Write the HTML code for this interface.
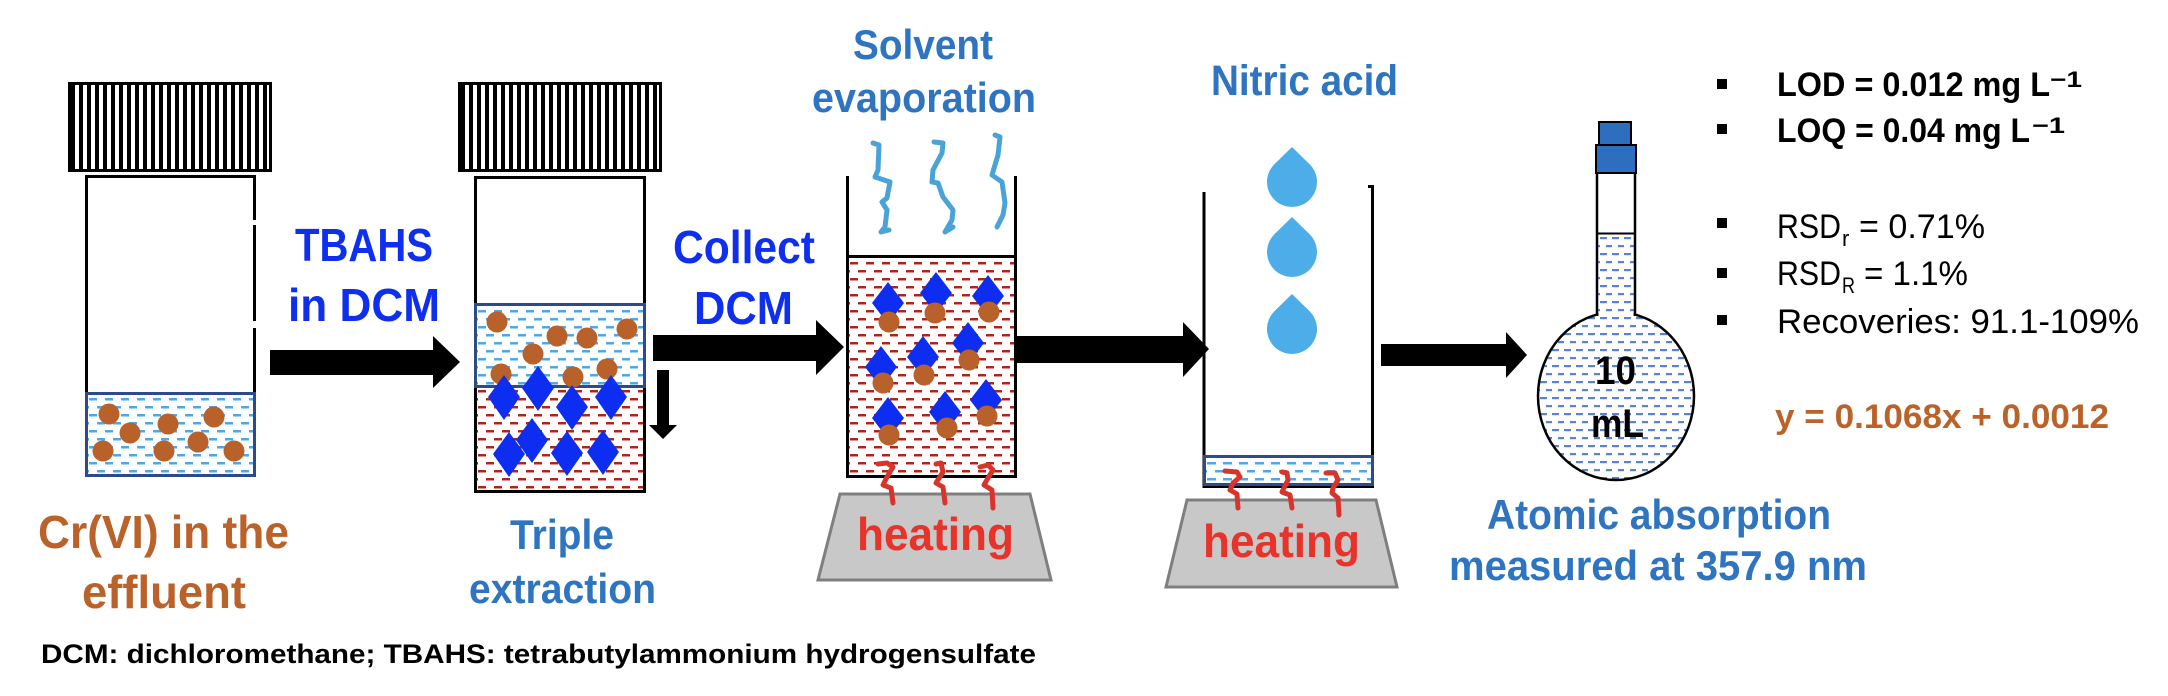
<!DOCTYPE html>
<html><head><meta charset="utf-8"><style>
html,body{margin:0;padding:0;background:#fff;}
svg{display:block;}
text{font-family:"Liberation Sans",Arial,sans-serif;}
</style></head><body>
<svg width="2168" height="696" viewBox="0 0 2168 696" xmlns="http://www.w3.org/2000/svg">
<defs>
<pattern id="stripes" x="71" y="0" width="8" height="10" patternUnits="userSpaceOnUse"><rect x="0" y="0" width="8" height="10" fill="#fff"/><rect x="0" y="0" width="4" height="10" fill="#000"/></pattern>
<pattern id="stripes2" x="461" y="0" width="8" height="10" patternUnits="userSpaceOnUse"><rect x="0" y="0" width="8" height="10" fill="#fff"/><rect x="0" y="0" width="4" height="10" fill="#000"/></pattern>
<pattern id="lb1" x="89" y="398" width="16" height="16" patternUnits="userSpaceOnUse"><rect width="16" height="16" fill="#fff"/><rect x="0" y="0" width="8" height="2.5" fill="#4DA8EA"/><rect x="8" y="8" width="8" height="2.5" fill="#4DA8EA"/></pattern>
<pattern id="lb2" x="478" y="310" width="16" height="16" patternUnits="userSpaceOnUse"><rect width="16" height="16" fill="#fff"/><rect x="0" y="0" width="8" height="2.5" fill="#4DA8EA"/><rect x="8" y="8" width="8" height="2.5" fill="#4DA8EA"/></pattern>
<pattern id="lb3" x="1207" y="462" width="16" height="16" patternUnits="userSpaceOnUse"><rect width="16" height="16" fill="#fff"/><rect x="0" y="0" width="9" height="2.5" fill="#4DA8EA"/><rect x="8" y="8" width="9" height="2.5" fill="#4DA8EA"/></pattern>
<pattern id="rd1" x="478" y="390" width="16" height="16" patternUnits="userSpaceOnUse"><rect width="16" height="16" fill="#fff"/><rect x="0" y="0" width="8" height="2.5" fill="#B0231A"/><rect x="8" y="8" width="8" height="2.5" fill="#B0231A"/></pattern>
<pattern id="rd2" x="850" y="262" width="16" height="16" patternUnits="userSpaceOnUse"><rect width="16" height="16" fill="#fff"/><rect x="0" y="0" width="8" height="2.5" fill="#B0231A"/><rect x="8" y="8" width="8" height="2.5" fill="#B0231A"/></pattern>
<pattern id="fb" x="1600" y="237" width="12" height="16" patternUnits="userSpaceOnUse"><rect width="12" height="16" fill="#fff"/><rect x="0" y="0" width="7" height="2.2" fill="#5585D2"/><rect x="6" y="8" width="7" height="2.2" fill="#5585D2"/></pattern>
<clipPath id="flaskclip"><rect x="1597" y="233" width="38" height="100"/><ellipse cx="1616" cy="396" rx="78" ry="84"/></clipPath>
</defs>

<!-- ===== Vial 1 ===== -->
<rect x="69.5" y="83.5" width="201" height="87" fill="url(#stripes)" stroke="#000" stroke-width="3"/>
<rect x="86.5" y="176.5" width="168" height="299" fill="#fff" stroke="#000" stroke-width="3"/>
<rect x="253" y="220" width="5" height="5" fill="#fff"/>
<rect x="253" y="321" width="5" height="7" fill="#fff"/>
<rect x="86.5" y="393.5" width="168" height="82" fill="url(#lb1)" stroke="#2F4A8A" stroke-width="3"/>
<g fill="#B8612A">
<circle cx="109" cy="414" r="10.5"/><circle cx="130" cy="433" r="10.5"/><circle cx="168" cy="424" r="10.5"/><circle cx="214" cy="417" r="10.5"/>
<circle cx="103" cy="451" r="10.5"/><circle cx="164" cy="451" r="10.5"/><circle cx="198" cy="442" r="10.5"/><circle cx="234" cy="451" r="10.5"/>
</g>

<!-- Arrow 1 -->
<polygon points="270,350 433,350 433,336 460,362 433,388 433,375 270,375" fill="#000"/>
<text x="295" y="261" font-size="46" font-weight="bold" fill="#0F2FEF" textLength="138" lengthAdjust="spacingAndGlyphs">TBAHS</text>
<text x="288" y="321" font-size="46" font-weight="bold" fill="#0F2FEF" textLength="152" lengthAdjust="spacingAndGlyphs">in DCM</text>

<text x="38" y="548" font-size="46" font-weight="bold" fill="#BA622A" textLength="251" lengthAdjust="spacingAndGlyphs">Cr(VI) in the</text>
<text x="82" y="608" font-size="46" font-weight="bold" fill="#BA622A" textLength="164" lengthAdjust="spacingAndGlyphs">effluent</text>

<!-- ===== Vial 2 ===== -->
<rect x="459.5" y="83.5" width="201" height="87" fill="url(#stripes2)" stroke="#000" stroke-width="3"/>
<rect x="475.5" y="177.5" width="169" height="314" fill="#fff" stroke="#000" stroke-width="3"/>
<rect x="475.5" y="386.5" width="169" height="105" fill="url(#rd1)" stroke="#000" stroke-width="3"/>
<rect x="475.5" y="304.5" width="169" height="82" fill="url(#lb2)" stroke="#2F4A8A" stroke-width="3"/>
<g fill="#B8612A">
<circle cx="497" cy="322" r="10.5"/><circle cx="557" cy="336" r="10.5"/><circle cx="587" cy="338" r="10.5"/><circle cx="627" cy="329" r="10.5"/>
<circle cx="533" cy="354" r="10.5"/><circle cx="501" cy="374" r="10.5"/><circle cx="573" cy="377" r="10.5"/><circle cx="607" cy="369" r="10.5"/>
</g>
<g fill="#0D2DF0">
<polygon points="504,375 520,397 504,420 488,397"/>
<polygon points="538,366 554,388 538,411 522,388"/>
<polygon points="572,385 588,407 572,430 556,407"/>
<polygon points="611,375 627,397 611,420 595,397"/>
<polygon points="532,418 548,440 532,463 516,440"/>
<polygon points="509,432 525,454 509,477 493,454"/>
<polygon points="567,431 583,453 567,476 551,453"/>
<polygon points="603,430 619,452 603,475 587,452"/>
</g>
<!-- down arrow -->
<polygon points="657,370 669,370 669,425 677,425 663,439 649,425 657,425" fill="#000"/>

<text x="510" y="549" font-size="42" font-weight="bold" fill="#2E74C0" textLength="104" lengthAdjust="spacingAndGlyphs">Triple</text>
<text x="469" y="603" font-size="42" font-weight="bold" fill="#2E74C0" textLength="187" lengthAdjust="spacingAndGlyphs">extraction</text>

<!-- Arrow 2 -->
<polygon points="653,335 816,335 816,320 844,347 816,375 816,361 653,361" fill="#000"/>
<text x="673" y="263" font-size="46" font-weight="bold" fill="#0F2FEF" textLength="142" lengthAdjust="spacingAndGlyphs">Collect</text>
<text x="694" y="324" font-size="46" font-weight="bold" fill="#0F2FEF" textLength="99" lengthAdjust="spacingAndGlyphs">DCM</text>

<!-- ===== Beaker 1 ===== -->
<text x="853" y="59" font-size="42" font-weight="bold" fill="#2E74C0" textLength="140" lengthAdjust="spacingAndGlyphs">Solvent</text>
<text x="812" y="112" font-size="42" font-weight="bold" fill="#2E74C0" textLength="224" lengthAdjust="spacingAndGlyphs">evaporation</text>
<g fill="none" stroke="#4AA3D8" stroke-width="5" stroke-linecap="round" stroke-linejoin="round">
<polyline points="873,143 879,145 878,170 875,177 890,182 887,198 882,202 887,210 885,227 881,232 889,230"/>
<polyline points="934,142 943,143 942,153 933,170 932,182 938,183 943,197 953,210 952,220 945,232 953,227"/>
<polyline points="995,135 1000,137 998,155 992,175 1002,182 1005,203 1003,215 997,227"/>
</g>
<rect x="847.5" y="256.5" width="168" height="220" fill="url(#rd2)" stroke="#000" stroke-width="3"/>
<line x1="847.5" y1="176" x2="847.5" y2="258" stroke="#000" stroke-width="3"/>
<line x1="1015.5" y1="176" x2="1015.5" y2="258" stroke="#000" stroke-width="3"/>
<g fill="#0D2DF0">
<polygon points="888,282 904,303 888,324 872,303"/>
<polygon points="936,272 952,293 936,314 920,293"/>
<polygon points="988,275 1004,296 988,317 972,296"/>
<polygon points="881,346 897,367 881,388 865,367"/>
<polygon points="923,336 939,357 923,378 907,357"/>
<polygon points="968,322 984,343 968,364 952,343"/>
<polygon points="888,397 904,418 888,439 872,418"/>
<polygon points="945,391 961,412 945,433 929,412"/>
<polygon points="986,379 1002,400 986,421 970,400"/>
</g>
<g fill="#B8612A">
<circle cx="889" cy="322" r="10.5"/><circle cx="935" cy="313" r="10.5"/><circle cx="989" cy="312" r="10.5"/>
<circle cx="883" cy="383" r="10.5"/><circle cx="924" cy="375" r="10.5"/><circle cx="969" cy="360" r="10.5"/>
<circle cx="889" cy="435" r="10.5"/><circle cx="947" cy="428" r="10.5"/><circle cx="987" cy="416" r="10.5"/>
</g>
<polygon points="840,494 1030,494 1051,580 818,580" fill="#C8C8C8" stroke="#7F7F7F" stroke-width="3"/>
<g fill="none" stroke="#D9342B" stroke-width="5" stroke-linecap="round" stroke-linejoin="round">
<polyline points="878,464 887,463 893,467 887,477 883,485 891,488 893,503"/>
<polyline points="936,464 941,463 943,472 936,483 943,487 945,503"/>
<polyline points="980,467 988,465 993,470 988,478 984,485 992,490 993,508"/>
</g>
<text x="857" y="550" font-size="46" font-weight="bold" fill="#E8332A" textLength="157" lengthAdjust="spacingAndGlyphs">heating</text>

<!-- Arrow 3 -->
<polygon points="1017,336 1183,336 1183,322 1209,349 1183,377 1183,363 1017,363" fill="#000"/>

<!-- ===== Beaker 2 ===== -->
<text x="1211" y="95" font-size="43" font-weight="bold" fill="#2E74C0" textLength="187" lengthAdjust="spacingAndGlyphs">Nitric acid</text>
<g fill="#4DADE8">
<path d="M1292,147 L1309.5,164.1 A25,25 0 1 1 1274.5,164.1 Z"/>
<path d="M1292,217 L1309.5,234.1 A25,25 0 1 1 1274.5,234.1 Z"/>
<path d="M1292,294 L1309.5,311.1 A25,25 0 1 1 1274.5,311.1 Z"/>
</g>
<line x1="1204" y1="192" x2="1204" y2="488" stroke="#000" stroke-width="3"/>
<line x1="1372.5" y1="185" x2="1372.5" y2="488" stroke="#000" stroke-width="3"/>
<line x1="1368" y1="186.5" x2="1373" y2="186.5" stroke="#000" stroke-width="3"/>
<line x1="1202.5" y1="486.5" x2="1374" y2="486.5" stroke="#000" stroke-width="3"/>
<rect x="1204.5" y="456.5" width="168" height="28" fill="url(#lb3)" stroke="#2F4A8A" stroke-width="3"/>
<polygon points="1187,500 1376,500 1397,587 1166,587" fill="#C8C8C8" stroke="#7F7F7F" stroke-width="3"/>
<g fill="none" stroke="#D9342B" stroke-width="5" stroke-linecap="round" stroke-linejoin="round">
<polyline points="1225,471 1237,472 1240,477 1233,483 1230,490 1237,494 1238,508"/>
<polyline points="1282,472 1287,473 1288,480 1282,492 1290,495 1292,508"/>
<polyline points="1326,473 1335,473 1338,480 1333,488 1332,493 1338,498 1339,515"/>
</g>
<text x="1203" y="557" font-size="46" font-weight="bold" fill="#E8332A" textLength="157" lengthAdjust="spacingAndGlyphs">heating</text>

<!-- Arrow 4 -->
<polygon points="1381,344 1506,344 1506,332 1527,355 1506,378 1506,366 1381,366" fill="#000"/>

<!-- ===== Flask ===== -->
<rect x="1597" y="233" width="38" height="100" fill="url(#fb)" clip-path="url(#flaskclip)"/>
<ellipse cx="1616" cy="396" rx="78" ry="84" fill="url(#fb)" stroke="#000" stroke-width="2.5"/>
<rect x="1598.5" y="300" width="35" height="22" fill="url(#fb)"/>
<rect x="1598" y="174" width="36" height="59" fill="#fff"/>
<line x1="1597" y1="173" x2="1597" y2="316" stroke="#000" stroke-width="2.5"/>
<line x1="1635" y1="173" x2="1635" y2="316" stroke="#000" stroke-width="2.5"/>
<line x1="1597" y1="233.5" x2="1635" y2="233.5" stroke="#000" stroke-width="2"/>
<rect x="1599" y="122" width="32" height="23" fill="#2E6EBE" stroke="#000" stroke-width="2"/>
<rect x="1596" y="145" width="40" height="28" fill="#2E6EBE" stroke="#000" stroke-width="2"/>
<text x="1595" y="384" font-size="40" font-weight="bold" fill="#000" textLength="41" lengthAdjust="spacingAndGlyphs">10</text>
<text x="1591" y="437" font-size="40" font-weight="bold" fill="#000" textLength="53" lengthAdjust="spacingAndGlyphs">mL</text>

<text x="1487" y="529" font-size="42" font-weight="bold" fill="#2E74C0" textLength="344" lengthAdjust="spacingAndGlyphs">Atomic absorption</text>
<text x="1449" y="580" font-size="42" font-weight="bold" fill="#2E74C0" textLength="418" lengthAdjust="spacingAndGlyphs">measured at 357.9 nm</text>

<!-- ===== Right text ===== -->
<g fill="#000">
<rect x="1717" y="79" width="10" height="10"/>
<rect x="1717" y="124" width="10" height="10"/>
<rect x="1717" y="218" width="10" height="10"/>
<rect x="1717" y="268" width="10" height="10"/>
<rect x="1717" y="315" width="10" height="10"/>
</g>
<text x="1777" y="96" font-size="34" font-weight="bold" fill="#000" textLength="273" lengthAdjust="spacingAndGlyphs">LOD = 0.012 mg L</text>
<text x="2050" y="87" font-size="22" font-weight="bold" fill="#000" textLength="32" lengthAdjust="spacingAndGlyphs">−1</text>
<text x="1777" y="142" font-size="34" font-weight="bold" fill="#000" textLength="253" lengthAdjust="spacingAndGlyphs">LOQ = 0.04 mg L</text>
<text x="2032" y="133" font-size="22" font-weight="bold" fill="#000" textLength="33" lengthAdjust="spacingAndGlyphs">−1</text>

<text x="1777" y="238" font-size="34" fill="#000" textLength="64" lengthAdjust="spacingAndGlyphs">RSD</text>
<text x="1842" y="246" font-size="22" fill="#000">r</text>
<text x="1859" y="238" font-size="34" fill="#000" textLength="126" lengthAdjust="spacingAndGlyphs">= 0.71%</text>

<text x="1777" y="285" font-size="34" fill="#000" textLength="64" lengthAdjust="spacingAndGlyphs">RSD</text>
<text x="1842" y="293" font-size="22" fill="#000" textLength="13" lengthAdjust="spacingAndGlyphs">R</text>
<text x="1864" y="285" font-size="34" fill="#000" textLength="104" lengthAdjust="spacingAndGlyphs">= 1.1%</text>

<text x="1777" y="333" font-size="34" fill="#000" textLength="362" lengthAdjust="spacingAndGlyphs">Recoveries: 91.1-109%</text>

<text x="1775" y="428" font-size="34" font-weight="bold" fill="#BA622A" textLength="334" lengthAdjust="spacingAndGlyphs">y = 0.1068x + 0.0012</text>

<!-- footnote -->
<text x="41" y="663" font-size="27" font-weight="bold" fill="#000" textLength="995" lengthAdjust="spacingAndGlyphs">DCM: dichloromethane; TBAHS: tetrabutylammonium hydrogensulfate</text>
</svg>
</body></html>
